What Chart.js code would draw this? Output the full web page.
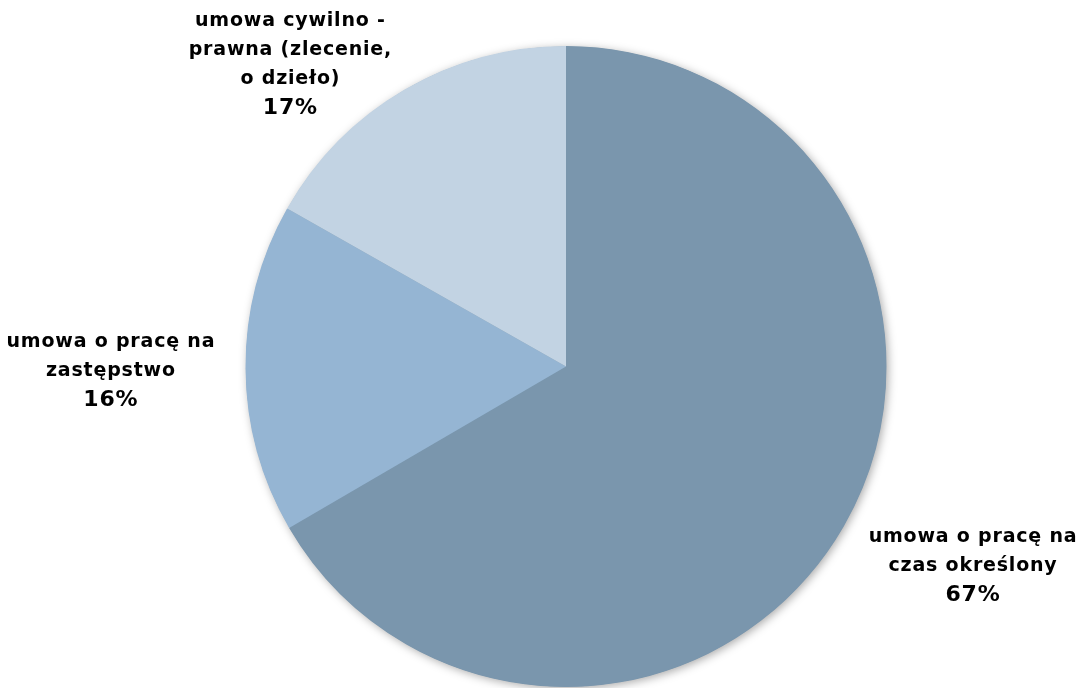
<!DOCTYPE html>
<html>
<head>
<meta charset="utf-8">
<script src="https://cdn.jsdelivr.net/npm/chart.js@4/dist/chart.umd.min.js"></script>
<style>
  html, body { margin: 0; padding: 0; background: #fff; }
  #wrap { width: 1082px; height: 688px; position: relative; }
</style>
</head>
<body>
<div id="wrap"><canvas id="pieChart"></canvas></div>
<script>
const categories = [
  ["umowa o pracę na", "czas określony"],
  ["umowa o pracę na", "zastępstwo"],
  ["umowa cywilno -", "prawna (zlecenie,", "o dzieło)"]
];
const shares = [66.6, 16.6, 16.8];
const pctLabels = ["67%", "16%", "17%"];
const colors = ["#7A96AD", "#95B5D3", "#C2D3E3"];

// label anchors, in units of the pie radius from its centre (first line)
const labelAnchors = [
  { dx: 1.27, dy: 0.533 },
  { dx: -1.42, dy: -0.077 },
  { dx: -0.86, dy: -1.077 }
];

// soft shadow behind the whole disc only, not between slices
const shadowPlugin = {
  id: 'pieShadow',
  beforeDatasetsDraw(chart) {
    const arc = chart.getDatasetMeta(0).data[0];
    if (!arc) return;
    const ctx = chart.ctx;
    ctx.save();
    ctx.shadowColor = 'rgba(0,0,0,0.35)';
    ctx.shadowBlur = 10;
    ctx.shadowOffsetX = 2;
    ctx.shadowOffsetY = 2;
    ctx.fillStyle = colors[0];
    ctx.beginPath();
    ctx.arc(arc.x, arc.y, arc.outerRadius - 0.5, 0, Math.PI * 2);
    ctx.fill();
    ctx.restore();
  }
};

const labelPlugin = {
  id: 'sliceLabels',
  afterDraw(chart) {
    const ctx = chart.ctx;
    const arcs = chart.getDatasetMeta(0).data;
    ctx.save();
    ctx.fillStyle = '#000';
    ctx.textAlign = 'center';
    ctx.textBaseline = 'middle';
    ctx.letterSpacing = '0.8px';
    arcs.forEach((arc, i) => {
      const r = arc.outerRadius;
      const x = arc.x + labelAnchors[i].dx * r;
      let y = arc.y + labelAnchors[i].dy * r;
      ctx.font = 'bold 19px "DejaVu Sans"';
      categories[i].forEach(line => {
        ctx.fillText(line, x, y);
        y += 29;
      });
      ctx.font = 'bold 22px "DejaVu Sans"';
      ctx.fillText(pctLabels[i], x, y);
    });
    ctx.restore();
  }
};

new Chart(document.getElementById('pieChart').getContext('2d'), {
  type: 'pie',
  data: {
    labels: categories.map(c => c.join(' ')),
    datasets: [{
      data: shares,
      backgroundColor: colors,
      borderWidth: 0
    }]
  },
  options: {
    responsive: true,
    maintainAspectRatio: false,
    animation: false,
    layout: { padding: { top: 46, bottom: 1, left: 50, right: 0 } },
    plugins: {
      legend: { display: false },
      tooltip: { enabled: false }
    }
  },
  plugins: [shadowPlugin, labelPlugin]
});
</script>
</body>
</html>
